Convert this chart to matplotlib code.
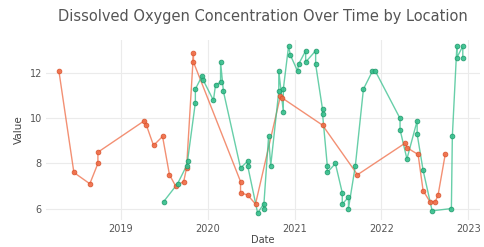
import numpy as np
import pandas as pd
import matplotlib
matplotlib.use("Agg")
import matplotlib.pyplot as plt
import matplotlib.dates as mdates

# Location A (orange)
dates_a = ['2018-04-15', '2018-06-17', '2018-08-23', '2018-09-26', '2018-09-26',
           '2019-04-10', '2019-04-18', '2019-05-18', '2019-06-25', '2019-07-24',
           '2019-08-19', '2019-09-22', '2019-10-04', '2019-11-02', '2019-11-02',
           '2020-05-18', '2020-05-18', '2020-06-17', '2020-07-20', '2020-11-02',
           '2020-11-10', '2021-04-28', '2021-09-22', '2022-04-10', '2022-04-18',
           '2022-06-04', '2022-06-25', '2022-07-24', '2022-08-15', '2022-08-27',
           '2022-09-26']
values_a = [12.1, 7.6, 7.1, 8.0, 8.5,
            9.9, 9.7, 8.8, 9.2, 7.5,
            7.0, 7.2, 7.8, 12.9, 12.5,
            7.2, 6.7, 6.6, 6.2, 11.0,
            10.9, 9.7, 7.5, 8.9, 8.7,
            8.4, 6.8, 6.3, 6.3, 6.6,
            8.4]

# Location B (green)
dates_b = ['2019-06-29', '2019-08-27', '2019-10-04', '2019-10-08', '2019-11-10',
           '2019-11-10', '2019-12-09', '2019-12-13', '2020-01-25', '2020-02-03',
           '2020-02-24', '2020-02-24', '2020-03-07', '2020-05-18', '2020-06-17',
           '2020-06-17', '2020-07-29', '2020-08-23', '2020-08-23', '2020-09-13',
           '2020-09-22', '2020-10-26', '2020-10-26', '2020-11-14', '2020-11-14',
           '2020-12-06', '2020-12-14', '2021-01-13', '2021-01-17', '2021-02-16',
           '2021-02-16', '2021-03-30', '2021-03-30', '2021-04-28', '2021-04-28',
           '2021-05-18', '2021-05-18', '2021-06-21', '2021-07-20', '2021-07-20',
           '2021-08-15', '2021-08-15', '2021-09-13', '2021-10-17', '2021-11-24',
           '2021-12-06', '2022-03-20', '2022-03-20', '2022-04-18', '2022-05-31',
           '2022-05-31', '2022-06-25', '2022-08-02', '2022-10-22', '2022-10-26',
           '2022-11-14', '2022-11-14', '2022-12-09', '2022-12-09']
values_b = [6.3, 7.1, 7.9, 8.1, 10.7,
            11.3, 11.9, 11.7, 10.8, 11.5,
            11.6, 12.5, 11.2, 7.8, 8.1,
            7.9, 5.8, 6.2, 6.0, 9.2,
            7.9, 11.2, 12.1, 10.3, 11.3,
            13.2, 12.8, 12.1, 12.4, 13.0,
            12.5, 13.0, 12.4, 10.4, 10.2,
            7.9, 7.6, 8.0, 6.7, 6.2,
            6.5, 6.0, 7.9, 11.3, 12.1,
            12.1, 10.0, 9.5, 8.2, 9.9,
            9.3, 7.7, 5.9, 6.0, 9.2,
            13.2, 12.7, 13.2, 12.7]

series = [
    (pd.to_datetime(dates_a), values_a, '#ef6b45', '#d9532c'),
    (pd.to_datetime(dates_b), values_b, '#35bf8c', '#1f9a6c'),
]

fig, ax = plt.subplots(figsize=(4.85, 2.47), dpi=100)
fig.subplots_adjust(left=0.095, right=0.99, top=0.84, bottom=0.11)

for d, v, c, ec in series:
    ax.plot(d, v, color=c, linewidth=1.0, alpha=0.75, zorder=2)
    ax.plot(d, v, linestyle='none', marker='o', markersize=3.4,
            markerfacecolor=c, markeredgecolor=ec, markeredgewidth=0.6,
            alpha=0.9, zorder=3)

ax.set_xlim(pd.Timestamp('2018-02-20'), pd.Timestamp('2023-02-20'))
ax.set_ylim(5.5, 13.5)
ax.set_yticks([6, 8, 10, 12])
ax.xaxis.set_major_locator(mdates.YearLocator())
ax.xaxis.set_major_formatter(mdates.DateFormatter('%Y'))

ax.grid(True, color='#ebebeb', linewidth=0.8)
ax.set_axisbelow(True)
for s in ax.spines.values():
    s.set_visible(False)
ax.tick_params(length=0, labelsize=7, colors='#555555', pad=3)

ax.set_title('Dissolved Oxygen Concentration Over Time by Location',
             fontsize=10.5, color='#555555', pad=13)
ax.set_ylabel('Value', fontsize=7.5, color='#444444', labelpad=4)
ax.set_xlabel('Date', fontsize=7, color='#444444', labelpad=1)

fig.savefig('out.png', dpi=100)
